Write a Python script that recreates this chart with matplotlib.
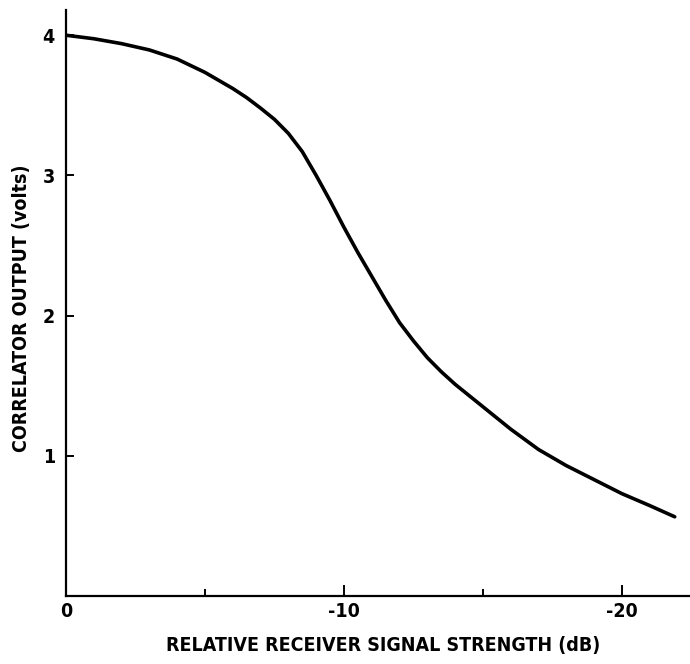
import matplotlib
matplotlib.use("Agg")
import matplotlib.pyplot as plt

# correlator output vs. relative receiver signal strength
signal_db = [0, -1, -2, -3, -4, -5, -6, -6.5, -7, -7.5, -8, -8.5, -9, -9.5,
             -10, -10.5, -11, -11.5, -12, -12.5, -13, -13.5, -14, -15, -16,
             -17, -18, -19, -20, -21, -21.9]
output_volts = [4.00, 3.975, 3.94, 3.895, 3.83, 3.735, 3.62, 3.555, 3.48, 3.40,
                3.30, 3.17, 3.00, 2.82, 2.63, 2.45, 2.28, 2.11, 1.95, 1.82,
                1.70, 1.60, 1.51, 1.35, 1.19, 1.045, 0.93, 0.83, 0.73, 0.645,
                0.565]

major_x = [0, -10, -20]
major_x_labels = ["0", "-10", "-20"]
minor_x = [-5, -15]
y_ticks = [1, 2, 3, 4]
y_tick_labels = ["1", "2", "3", "4"]

font = dict(family="DejaVu Sans", fontweight="bold", fontstretch="condensed")

fig = plt.figure(figsize=(6.9, 6.64), dpi=100)
ax = fig.add_axes([66 / 690, 68 / 664, 624 / 690, 586 / 664])

ax.plot(signal_db, output_volts, color="black", lw=2.6,
        solid_capstyle="round", solid_joinstyle="round")

ax.set_xlim(0, -22.45)
ax.set_ylim(0, 4.18)

for s in ["top", "right"]:
    ax.spines[s].set_visible(False)
for s in ["left", "bottom"]:
    ax.spines[s].set_linewidth(1.6)

ax.set_xticks(major_x)
ax.set_xticklabels(major_x_labels, fontsize=14, **font)
ax.set_xticks(minor_x, minor=True)
ax.set_yticks(y_ticks)
ax.set_yticklabels(y_tick_labels, fontsize=14, **font)
ax.tick_params(which="major", direction="in", length=8, width=1.4, pad=4)
ax.tick_params(which="minor", direction="in", length=5, width=1.4)
ax.tick_params(axis="y", length=6, pad=8)

ax.set_xlabel("RELATIVE RECEIVER SIGNAL STRENGTH (dB)", fontsize=14, **font)
ax.set_ylabel("CORRELATOR OUTPUT (volts)", fontsize=14, **font)
ax.xaxis.set_label_coords((383 - 66) / 624, -(646 - 596) / 586)
ax.yaxis.set_label_coords(-(66 - 21) / 624, (596 - 308) / 586)
ax.xaxis.label.set_va("center")
ax.yaxis.label.set_va("center")

fig.savefig("out.png", dpi=100)
